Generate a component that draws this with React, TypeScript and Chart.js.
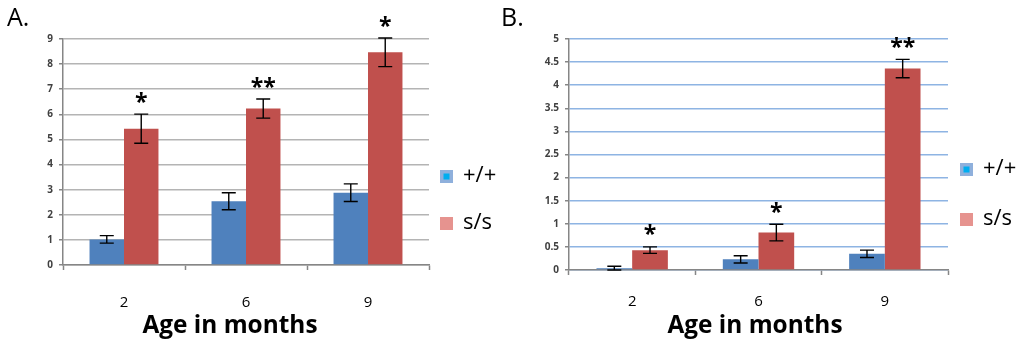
import { useEffect, useRef } from "react";
import { Chart, registerables } from "chart.js";
Chart.register(...registerables);

const categories = ["2", "6", "9"];
const seriesNames = ["+/+", "s/s"];

const aWild = [1.02, 2.54, 2.88];
const aWildErr = [0.15, 0.34, 0.35];
const aMut = [5.43, 6.23, 8.47];
const aMutErr = [0.58, 0.38, 0.57];
const aStars = ["*", "**", "*"];
const aMax = 9;
const aStep = 1;

const bWild = [0.04, 0.23, 0.35];
const bWildErr = [0.04, 0.08, 0.08];
const bMut = [0.43, 0.81, 4.36];
const bMutErr = [0.07, 0.18, 0.2];
const bStars = ["*", "*", "**"];
const bMax = 5;
const bStep = 0.5;

const xTitle = "Age in months";
const BLUE = "#4f81bd";
const RED = "#c0504d";
const FONT = "'Open Sans', 'Noto Sans', sans-serif";

const annotPlugin = {
  id: "annot",
  afterDatasetsDraw(chart: any, _args: any, o: any) {
    const ctx = chart.ctx;
    const y = chart.scales.y;
    ctx.save();
    chart.data.datasets.forEach((ds: any, di: number) => {
      const meta = chart.getDatasetMeta(di);
      const errs = o.errors[di];
      meta.data.forEach((el: any, i: number) => {
        const v = ds.data[i];
        const e = errs[i];
        const top = y.getPixelForValue(v + e);
        const bot = y.getPixelForValue(Math.max(0, v - e));
        const x = el.x;
        const cap = 7;
        ctx.strokeStyle = "#000";
        ctx.lineWidth = 1.4;
        ctx.beginPath();
        ctx.moveTo(x, top);
        ctx.lineTo(x, bot);
        ctx.moveTo(x - cap, top);
        ctx.lineTo(x + cap, top);
        ctx.moveTo(x - cap, bot);
        ctx.lineTo(x + cap, bot);
        ctx.stroke();
        if (di === 1) {
          ctx.fillStyle = "#000";
          ctx.font = `bold 23px ${FONT}`;
          ctx.textAlign = "center";
          ctx.textBaseline = "middle";
          ctx.fillText(o.stars[i], x, top - 11);
        }
      });
    });
    // panel label
    ctx.fillStyle = "#000";
    ctx.font = `25px ${FONT}`;
    ctx.textAlign = "left";
    ctx.textBaseline = "alphabetic";
    ctx.fillText(o.panel, o.panelX, 26);
    // title
    ctx.font = `bold 25px ${FONT}`;
    ctx.textAlign = "center";
    ctx.fillText(xTitle, o.titleX, 333, 175);
    // legend
    const lg = o.legend;
    chart.data.datasets.forEach((ds: any, di: number) => {
      const ly = lg.y[di];
      if (di === 0) {
        ctx.fillStyle = "#8fb0dc";
        ctx.fillRect(lg.x, ly - 6, 13, 13);
        ctx.fillStyle = "#00adef";
        ctx.fillRect(lg.x + 3.5, ly - 2.5, 6, 6);
      } else {
        ctx.fillStyle = "#e6938f";
        ctx.fillRect(lg.x, ly - 6, 13, 13);
      }
      ctx.fillStyle = "#000";
      ctx.font = `22px ${FONT}`;
      ctx.textAlign = "left";
      ctx.textBaseline = "middle";
      ctx.fillText(ds.label, lg.x + 23, ly);
    });
    ctx.restore();
  },
};

function makeConfig(p: any) {
  return {
    type: "bar",
    data: {
      labels: categories,
      datasets: [
        { label: seriesNames[0], data: p.wild, backgroundColor: BLUE },
        { label: seriesNames[1], data: p.mut, backgroundColor: RED },
      ],
    },
    options: {
      animation: false,
      responsive: false,
      layout: { padding: { left: 0, right: p.padRight, top: 39, bottom: 0 } },
      datasets: { bar: { categoryPercentage: 0.565, barPercentage: 1 } },
      plugins: {
        legend: { display: false },
        tooltip: { enabled: false },
        annot: p.annot,
      },
      scales: {
        x: {
          afterFit: (s: any) => {
            s.height = p.xHeight;
          },
          grid: {
            offset: true,
            drawOnChartArea: false,
            drawTicks: true,
            tickLength: 5,
            tickColor: "#868686",
            tickWidth: 1.5,
          },
          border: { color: "#868686", width: 1.5 },
          ticks: {
            padding: p.xPad,
            color: "#000",
            font: { family: FONT, size: 15 },
          },
        },
        y: {
          min: 0,
          max: p.max,
          afterFit: (s: any) => {
            s.width = p.yWidth;
          },
          grid: {
            color: p.gridColor,
            lineWidth: 1.5,
            drawTicks: true,
            tickLength: 4,
            tickColor: "#868686",
          },
          border: { color: "#868686", width: 1.5 },
          ticks: {
            stepSize: p.step,
            padding: 6,
            color: "#404040",
            font: { family: FONT, size: 10, weight: "bold" },
            callback: (v: any) => String(v),
          },
        },
      },
    },
    plugins: [annotPlugin],
  };
}

function ChartCanvas(props: { width: number; left: number; cfg: any }) {
  const ref = useRef<HTMLCanvasElement>(null);
  useEffect(() => {
    const c = new Chart(ref.current as any, props.cfg);
    return () => c.destroy();
  }, []);
  return (
    <canvas
      ref={ref}
      width={props.width}
      height={346}
      style={{ position: "absolute", left: props.left, top: 0, width: props.width, height: 346 }}
    />
  );
}

const A_W = 497;
const B_L = 497;
const B_W = 1024 - 497;

const cfgA = makeConfig({
  wild: aWild,
  mut: aMut,
  max: aMax,
  step: aStep,
  padRight: A_W - 429,
  yWidth: 63,
  xHeight: 346 - 265,
  xPad: 24,
  gridColor: "#b4b4b4",
  annot: {
    errors: [aWildErr, aMutErr],
    stars: aStars,
    panel: "A.",
    panelX: 7,
    titleX: 230,
    legend: { x: 440, y: [176, 223] },
  },
});

const cfgB = makeConfig({
  wild: bWild,
  mut: bMut,
  max: bMax,
  step: bStep,
  padRight: B_W - (948 - B_L),
  yWidth: 569 - B_L,
  xHeight: 346 - 270,
  xPad: 18,
  gridColor: "#8eb4e3",
  annot: {
    errors: [bWildErr, bMutErr],
    stars: bStars,
    panel: "B.",
    panelX: 501 - B_L,
    titleX: 755 - B_L,
    legend: { x: 960 - B_L, y: [169, 219] },
  },
});

export default function App() {
  return (
    <div style={{ position: "fixed", left: 0, top: 0, width: 1024, height: 346, background: "#fff" }}>
      <ChartCanvas width={A_W} left={0} cfg={cfgA} />
      <ChartCanvas width={B_W} left={B_L} cfg={cfgB} />
    </div>
  );
}
